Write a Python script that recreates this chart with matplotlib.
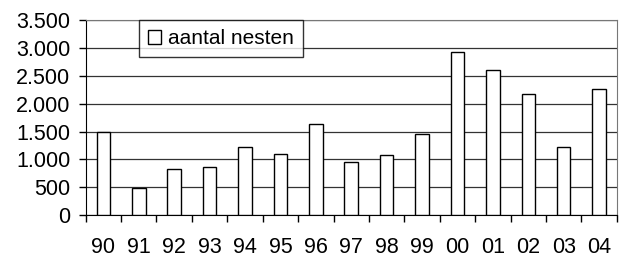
import numpy as np
import matplotlib
matplotlib.use("Agg")
import matplotlib.pyplot as plt
from matplotlib.ticker import FuncFormatter, MultipleLocator

# data
jaren = ["90", "91", "92", "93", "94", "95", "96", "97", "98", "99",
         "00", "01", "02", "03", "04"]
nesten = [1500, 480, 835, 870, 1230, 1105, 1640, 950, 1075, 1465,
          2930, 2600, 2180, 1225, 2270]

plt.rcParams['font.family'] = ['Liberation Sans', 'DejaVu Sans']

fig = plt.figure(figsize=(6.23, 2.57), dpi=100)
ax = fig.add_axes([0.1375, 0.1634, 0.8525, 0.7576])

x = np.arange(len(jaren))
ax.bar(x, nesten, width=0.38, color="white", edgecolor="black",
       linewidth=1.0, label="aantal nesten", zorder=3)

ax.set_xlim(-0.5, len(jaren) - 0.5)
ax.set_ylim(0, 3500)
ax.yaxis.set_major_locator(MultipleLocator(500))
ax.yaxis.set_major_formatter(FuncFormatter(lambda v, p: f"{int(v):,}".replace(",", ".")))
ax.grid(axis="y", color="#333333", linewidth=0.9, zorder=0)

ax.set_xticks(x)
ax.set_xticklabels(jaren)
ax.set_xticks(np.arange(-0.5, len(jaren)), minor=True)
ax.tick_params(axis="x", which="major", length=0, pad=16, labelsize=15.5)
ax.tick_params(axis="x", which="minor", length=5, width=1, direction="out")
ax.tick_params(axis="y", length=5, width=1, pad=6, labelsize=15.5)

for s in ["top", "right"]:
    ax.spines[s].set_color("#777777")
for s in ["left", "bottom"]:
    ax.spines[s].set_color("black")

leg = ax.legend(loc="upper left", bbox_to_anchor=(0.1, 1.0), fontsize=15,
                frameon=True, fancybox=False, shadow=False,
                handlelength=0.65, handleheight=0.65, handletextpad=0.35,
                borderpad=0.42, borderaxespad=0)
leg.get_frame().set_edgecolor("black")
leg.get_frame().set_linewidth(1.0)
leg.set_zorder(5)

fig.savefig("out.png", dpi=100)
